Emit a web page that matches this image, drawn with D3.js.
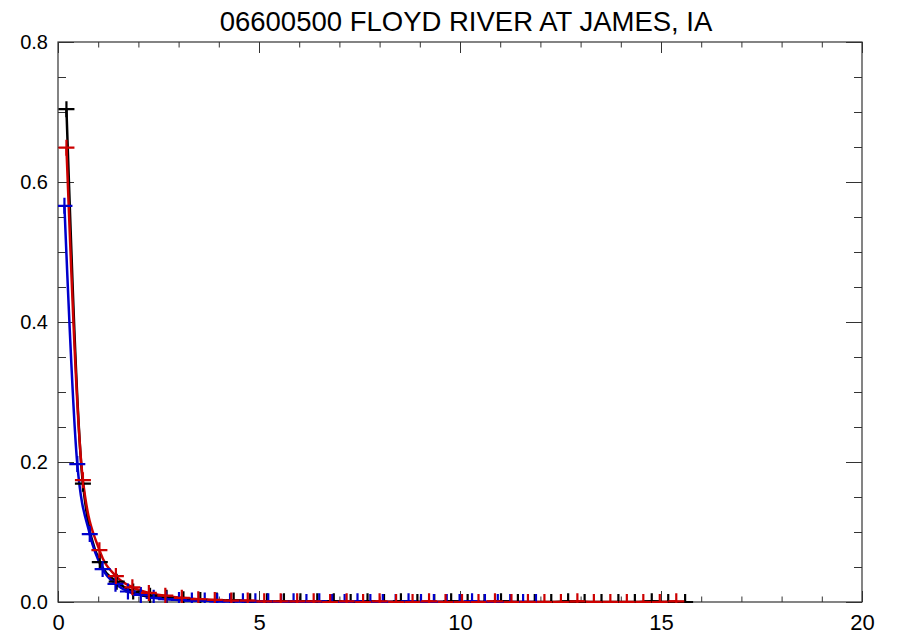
<!DOCTYPE html>
<html><head><meta charset="utf-8">
<script src="https://cdn.jsdelivr.net/npm/d3@7/dist/d3.min.js"></script>
<style>body{margin:0;background:#fff}svg{display:block}text{font-family:"Liberation Sans",Arial,sans-serif}</style>
</head><body><svg id="c" width="902" height="637"></svg>
<script>
const title = "06600500 FLOYD RIVER AT JAMES, IA";
const xTickLabels = ["0","5","10","15","20"];
const yTickLabels = ["0.0","0.2","0.4","0.6","0.8"];

const blackX = [0.21,0.62,1.04,1.46,1.87,2.29,2.70,3.12,3.54,3.95,4.37,4.78,5.20,5.62,6.03,6.45,6.86,7.28,7.70,8.11,8.53,8.94,9.36,9.78,10.19,10.61,11.02,11.44,11.86,12.27,12.69,13.10,13.52,13.94,14.35,14.77,15.18,15.60];
const blackY = [0.704,0.169,0.057,0.029,0.015,0.009,0.006,0.004,0.003,0.002,0.002,0.001,0.001,0.001,0.001,0.001,0.001,0,0.001,0,0.001,0,0,0.001,0,0,0.001,0,0,0,0.001,0,0,0,0,0.001,0,0];
const redX = [0.21,0.62,1.03,1.44,1.85,2.26,2.67,3.08,3.49,3.90,4.31,4.72,5.13,5.54,5.95,6.36,6.77,7.18,7.59,8.00,8.41,8.82,9.23,9.64,10.05,10.46,10.87,11.28,11.69,12.10,12.51,12.92,13.33,13.74,14.15,14.56,14.97,15.38];
const redY = [0.649,0.174,0.074,0.037,0.021,0.013,0.009,0.006,0.004,0.003,0.002,0.002,0.001,0.001,0.001,0.001,0,0.001,0,0.001,0,0,0.001,0,0,0,0.001,0,0,0,0,0.001,0,0,0,0,0,0.001];
const blueX = [0.16,0.48,0.79,1.11,1.43,1.74,2.06,2.38,2.69,3.01,3.33,3.65,3.96,4.28,4.60,4.91,5.23,5.55,5.86,6.18,6.50,6.82,7.13,7.45,7.77,8.08,8.40,8.72,9.03,9.35,9.67,9.99,10.30,10.62,10.94,11.25,11.57,11.89];
const blueY = [0.566,0.197,0.097,0.047,0.026,0.015,0.010,0.006,0.004,0.003,0.002,0.002,0.001,0.001,0.001,0.001,0.001,0,0.001,0,0.001,0,0,0.001,0,0,0,0.001,0,0,0,0,0.001,0,0,0,0,0];

const seriesColors = ["#000000","#0000cc","#cc0000"];
const series = [
  {x: blackX, y: blackY, color: seriesColors[0]},
  {x: blueX, y: blueY, color: seriesColors[1]},
  {x: redX, y: redY, color: seriesColors[2]}
];

const W = 902, H = 637;
const m = {left: 58, right: 40, top: 42, bottom: 35};
const svg = d3.select("#c");
const x = d3.scaleLinear().domain([0, 20]).range([m.left, W - m.right]);
const y = d3.scaleLinear().domain([0, 0.8]).range([H - m.bottom, m.top]);
const pw = x(20) - x(0), ph = y(0) - y(0.8);

svg.append("defs").append("clipPath").attr("id","clip")
  .append("rect").attr("x", x(0)).attr("y", y(0.8)).attr("width", pw).attr("height", ph + 1);

const axisColor = "#333";
const majX = 11, minX = 5.5, majY = 16, minY = 8;
const xMinor = d3.range(0, 21, 1), xMajor = d3.range(0, 21, 5);
const yMinor = d3.range(0, 0.8001, 0.05), yMajor = d3.range(0, 0.8001, 0.2);

// bottom axis
const gb = svg.append("g").attr("transform", `translate(0,${y(0)})`)
  .call(d3.axisBottom(x).tickValues(xMinor).tickSize(0).tickFormat(""));
gb.select(".domain").remove();
gb.selectAll(".tick line").attr("y2", d => -(d % 5 === 0 ? majX : minX)).attr("stroke", axisColor);
const gbl = svg.append("g").attr("transform", `translate(0,${y(0)})`)
  .call(d3.axisBottom(x).tickValues(xMajor).tickSize(0).tickPadding(12).tickFormat((d,i) => xTickLabels[i]));
gbl.select(".domain").remove();
gbl.selectAll("text").attr("font-size", 22).attr("fill","#000").attr("dy","0.71em");

// top axis
const gt = svg.append("g").attr("transform", `translate(0,${y(0.8)})`)
  .call(d3.axisTop(x).tickValues(xMinor).tickSize(0).tickFormat(""));
gt.select(".domain").remove();
gt.selectAll(".tick line").attr("y2", d => (d % 5 === 0 ? majX : minX)).attr("stroke", axisColor);

// left axis
const gl = svg.append("g").attr("transform", `translate(${x(0)},0)`)
  .call(d3.axisLeft(y).tickValues(yMinor).tickSize(0).tickFormat(""));
gl.select(".domain").remove();
const isMajY = d => Math.abs(Math.round(d / 0.2) * 0.2 - d) < 1e-6;
gl.selectAll(".tick line").attr("x2", d => (isMajY(d) ? majY : minY)).attr("stroke", axisColor);
const gll = svg.append("g").attr("transform", `translate(${x(0)},0)`)
  .call(d3.axisLeft(y).tickValues(yMajor).tickSize(0).tickPadding(10).tickFormat((d,i) => yTickLabels[i]));
gll.select(".domain").remove();
gll.selectAll("text").attr("font-size", 20).attr("fill","#000");

// right axis
const gr = svg.append("g").attr("transform", `translate(${x(20)},0)`)
  .call(d3.axisRight(y).tickValues(yMinor).tickSize(0).tickFormat(""));
gr.select(".domain").remove();
gr.selectAll(".tick line").attr("x2", d => -(isMajY(d) ? majY : minY)).attr("stroke", axisColor);

// frame
svg.append("rect").attr("x", x(0)).attr("y", y(0.8)).attr("width", pw).attr("height", ph)
  .attr("fill","none").attr("stroke", axisColor).attr("stroke-width", 1.2);

// data
const plot = svg.append("g").attr("clip-path","url(#clip)");
const line = d3.line().x(d => x(d[0])).y(d => y(d[1])).curve(d3.curveMonotoneX);
const msz = 8;
series.forEach(s => {
  const pts = s.x.map((v, i) => [v, s.y[i]]);
  plot.append("path").datum(pts).attr("d", line).attr("fill","none")
    .attr("stroke", s.color).attr("stroke-width", 2.5);
});
series.forEach(s => {
  const pts = s.x.map((v, i) => [v, s.y[i]]);
  plot.append("g").selectAll("path").data(pts).join("path")
    .attr("d", d => `M${x(d[0]) - msz},${y(d[1])}H${x(d[0]) + msz}M${x(d[0])},${y(d[1]) - msz}V${y(d[1]) + msz}`)
    .attr("stroke", s.color).attr("stroke-width", 2.2).attr("fill","none");
});

// title
svg.append("text").attr("x", 466).attr("y", 31).attr("text-anchor","middle")
  .attr("font-size", 27.5).attr("fill","#000").text(title);
</script></body></html>
